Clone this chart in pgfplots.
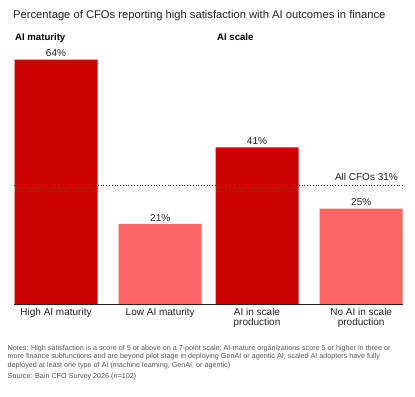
\documentclass[border=0pt]{standalone}
\usepackage{pgfplots}
\pgfplotsset{compat=1.18}
\usepackage{fontspec}
\setmainfont{Liberation Sans}
\definecolor{darkred}{HTML}{CC0000}
\definecolor{lightred}{HTML}{FF6666}
\definecolor{txt}{HTML}{222222}
\definecolor{note}{HTML}{555555}
\begin{document}
\begin{tikzpicture}[x=1bp,y=1bp]
\useasboundingbox (0,0) rectangle (415,397);
\fill[white] (0,0) rectangle (415,397);
\begin{axis}[
  at={(14bp,93bp)}, anchor=origin,
  scale only axis, width=389bp, height=267.4bp,
  xmin=14, xmax=403, ymin=0, ymax=70,
  axis lines=none, clip=false,
  ybar, bar width=83bp, bar shift=0pt,
  xtick=\empty, ytick=\empty,
  /pgf/number format/assume math mode=true,
  nodes near coords={\pgfmathprintnumber{\pgfplotspointmeta}\%},
  every node near coord/.append style={font=\fontsize{10bp}{12bp}\selectfont, text=txt, yshift=-1bp},
]
\addplot[fill=darkred, draw=none] coordinates {(56,64) (257,41)};
\addplot[fill=lightred, draw=none] coordinates {(160.2,21) (361.2,25)};
\draw[txt, line width=0.8bp] (axis cs:14,0) -- (axis cs:403,0);
\draw[txt, dotted, line width=0.8bp] (axis cs:14,31) -- (axis cs:403,31);
\node[anchor=base east, font=\fontsize{10bp}{12bp}\selectfont, text=txt, inner sep=0pt] at (axis cs:398,32.4) {All CFOs 31\%};
\end{axis}
\node[anchor=base west, inner sep=0pt, font=\fontsize{11.2bp}{13bp}\selectfont, text=txt] at (13,378.5) {Percentage of CFOs reporting high satisfaction with AI outcomes in finance};
\node[anchor=base west, inner sep=0pt, font=\fontsize{9.6bp}{11bp}\selectfont\bfseries, text=black] at (15,357) {AI maturity};
\node[anchor=base west, inner sep=0pt, font=\fontsize{9.6bp}{11bp}\selectfont\bfseries, text=black] at (217,357) {AI scale};
\begin{scope}[every node/.style={anchor=base, inner sep=0pt, align=center, font=\fontsize{10bp}{10bp}\selectfont, text=txt}]
\node at (56,81.5) {High AI maturity};
\node at (160.2,81.5) {Low AI maturity};
\node[anchor=north] at (257,89) {AI in scale\\production};
\node[anchor=north] at (361.2,89) {No AI in scale\\production};
\end{scope}
\node[anchor=north west, inner sep=0pt, align=left, font=\fontsize{7.2bp}{8.3bp}\selectfont, text=note] at (7.5,52) {Notes: High satisfaction is a score of 5 or above on a 7-point scale; AI-mature organizations score 5 or higher in three or\\more finance subfunctions and are beyond pilot stage in deploying GenAI or agentic AI; scaled AI adopters have fully\\deployed at least one type of AI (machine learning, GenAI, or agentic)};
\node[anchor=base west, inner sep=0pt, font=\fontsize{7.2bp}{8bp}\selectfont, text=note] at (7.5,19) {Source: Bain CFO Survey 2026 (n=102)};
\end{tikzpicture}
\end{document}
